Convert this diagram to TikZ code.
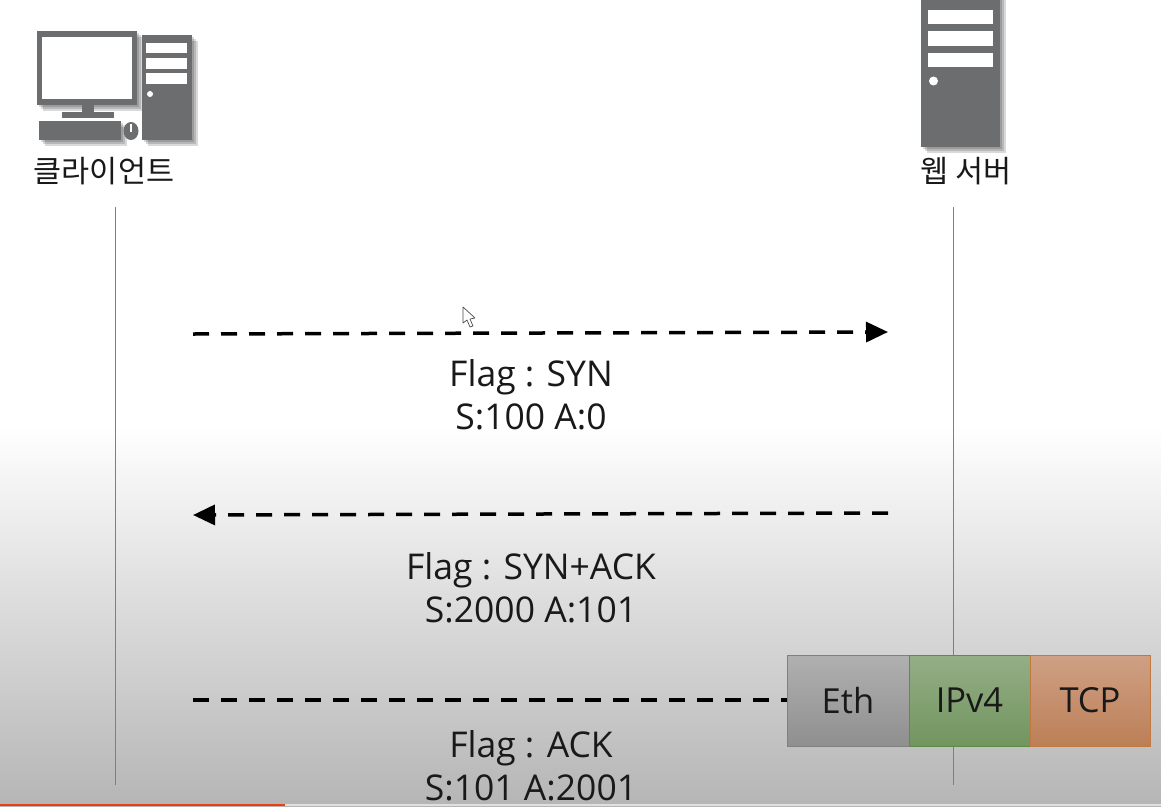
\documentclass[tikz,border=0pt]{standalone}
\usepackage{fontspec}
\setmainfont{Open Sans}
\newfontfamily\krfont{Noto Sans CJK KR}
\usetikzlibrary{arrows.meta}
\definecolor{icongray}{HTML}{6B6D6E}
\definecolor{lifeteal}{HTML}{3F9AA0}
\definecolor{ethtop}{HTML}{B0B0B0}
\definecolor{ethbot}{HTML}{8F8F8F}
\definecolor{ethline}{HTML}{808080}
\definecolor{ipvtop}{HTML}{94AE86}
\definecolor{ipvbot}{HTML}{72955F}
\definecolor{ipvline}{HTML}{5F8A4A}
\definecolor{tcptop}{HTML}{CFA085}
\definecolor{tcpbot}{HTML}{BC7F57}
\definecolor{tcpline}{HTML}{C07A40}
\definecolor{barred}{HTML}{E8400C}
\tikzset{
    flagtext/.style={align=center,font=\fontsize{35.5}{43}\selectfont,inner sep=0pt,text=black!90},
    hosttext/.style={font=\krfont\fontsize{30.5}{34}\selectfont,inner sep=0pt,text=black!90},
    msgline/.style={line width=3.5pt,dash pattern=on 16pt off 12pt,black},
    msgarrow/.style={msgline,-{Triangle[length=22pt,width=20pt]}},
    lifeline/.style={lifeteal,line width=1pt},
    packetbox/.style={draw,line width=1pt,minimum height=91pt,inner sep=0pt,font=\fontsize{34.5}{40}\selectfont,text=black!90}
}
\begin{document}
\begin{tikzpicture}[x=1pt,y=-1pt]
    \useasboundingbox (0,0) rectangle (1161,806);
    % background
    \fill [white] (0,0) rectangle (1161,806);
    \shade [top color=white,bottom color=black!29] (0,425) rectangle (1161,806);
    \fill [black!12] (285,804) rectangle (1161,806);
    \fill [barred] (0,804) rectangle (285,806);
    % shadows of the icons
    \foreach \s in {2,4,6} {
        \fill [black,opacity=.15] (37+\s,31+\s) rectangle (137+\s,105+\s);
        \fill [black,opacity=.15] (142+\s,35+\s) rectangle (192+\s,140+\s);
        \fill [black,opacity=.15] (39+\s,121+\s) rectangle (121+\s,140+\s);
        \fill [black,opacity=.15] (921+\s,0) rectangle (1000+\s,147+\s);
    }
    % client
    \fill [icongray] (37,31) rectangle (137,105);
    \fill [white] (42,37) rectangle (132,99);
    \fill [icongray] (82,105) rectangle (94,113);
    \fill [icongray] (62,112) rectangle (114,118);
    \fill [icongray] (39,121) rectangle (121,140);
    \fill [icongray] (131,131) ellipse [x radius=7.5,y radius=9];
    \fill [white] (129.5,124) rectangle (131.5,132);
    \fill [icongray] (142,35) rectangle (192,140);
    \fill [white] (146,43) rectangle (187,53);
    \fill [white] (146,58) rectangle (187,69);
    \fill [white] (146,73) rectangle (187,84);
    \fill [white] (150,94) circle [radius=3];
    % server
    \fill [icongray] (921,0) rectangle (1000,147);
    \fill [white] (928,10) rectangle (993,24);
    \fill [white] (928,31) rectangle (993,46);
    \fill [white] (928,53) rectangle (993,67);
    \fill [white] (933.5,81) circle [radius=4.5];
    \node [hosttext] (client) at (104,171) {\krfont 클라이언트};
    \node [hosttext] (server) at (966,171) {\krfont 웹 서버};
    % life lines
    \coordinate (clienttop) at (115,207);
    \coordinate (clientend) at (115,785);
    \coordinate (servertop) at (953,207);
    \coordinate (serverend) at (953,785);
    \draw [lifeline] (clienttop) -- (clientend);
    \draw [lifeline] (servertop) -- (serverend);
    % packet
    \node [packetbox,draw=ethline,top color=ethtop,bottom color=ethbot,minimum width=122pt] (eth) at (848,701) {Eth};
    \node [packetbox,draw=ipvline,top color=ipvtop,bottom color=ipvbot,minimum width=121pt] (ipv) at (969.5,700.5) {IPv4};
    \node [packetbox,draw=tcpline,top color=tcptop,bottom color=tcpbot,minimum width=120pt] (tcp) at (1090,700.5) {TCP};
    % messages
    \coordinate (synfrom) at (193,334);
    \coordinate (synto) at (888,332);
    \coordinate (ackfrom) at (888,513);
    \coordinate (ackto) at (193,515);
    \coordinate (lastfrom) at (193,700);
    \draw [msgarrow] (synfrom) -- (synto);
    \draw [msgarrow] (ackfrom) -- (ackto);
    \draw [msgline] (lastfrom) -- (eth.west |- lastfrom);
    \node [flagtext] (syntext) at (531,395) {Flag : SYN\\S:100 A:0};
    \node [flagtext] (acktext) at (531,588) {Flag : SYN+ACK\\S:2000 A:101};
    \node [flagtext] (lasttext) at (531,766) {Flag : ACK\\S:101 A:2001};
    % mouse pointer
    \draw [black!70,fill=white,line width=.7pt,line join=round] (463,307) -- (463,323) -- (467,320) -- (470,327) -- (473,326) -- (470,319) -- (475,318) -- cycle;
\end{tikzpicture}
\end{document}
